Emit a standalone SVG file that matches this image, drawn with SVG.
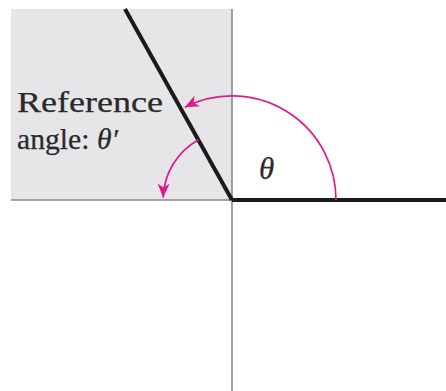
<svg xmlns="http://www.w3.org/2000/svg" width="446" height="391" viewBox="0 0 446 391">
<style>
.axis{stroke:#8a8a8a;stroke-width:1.6;fill:none}
.side{stroke:#1a1a1a;stroke-width:4;fill:none;stroke-linecap:butt}
.arc{stroke:#e0198a;stroke-width:1.7;fill:none}
.lbl{font-family:"Liberation Serif","Times New Roman",serif;fill:#2a2a2a;stroke:#2a2a2a;stroke-width:0.25}
</style>
<defs>
<marker id="ah" markerUnits="userSpaceOnUse" markerWidth="16" markerHeight="12" refX="14" refY="6" orient="auto">
<path d="M0,0 L14,6 L0,12 L4,6 Z" fill="#e0198a"/>
</marker>
</defs>
<rect width="446" height="391" fill="#ffffff"/>
<g id="quadrant">
<rect x="11" y="9" width="221" height="191" fill="#e6e6e8"/>
</g>
<g id="axes">
<line class="axis" x1="232" y1="9" x2="232" y2="391"/>
<line class="axis" x1="11" y1="200" x2="232" y2="200"/>
</g>
<g id="sides">
<line class="side" x1="232" y1="200" x2="446" y2="200"/>
<line class="side" x1="232" y1="200" x2="125" y2="9"/>
</g>
<g id="connectors">
<path class="arc" d="M336,200 A104,104 0 0,0 184.8,107.3" marker-end="url(#ah)"/>
<path class="arc" d="M198.5,139.7 A69,69 0 0,0 163.1,197.6" marker-end="url(#ah)"/>
</g>
<g id="label-reference">
<text class="lbl" x="17" y="112" font-size="30" textLength="146" lengthAdjust="spacingAndGlyphs">Reference</text>
<text class="lbl" x="17" y="149" font-size="30" textLength="101" lengthAdjust="spacingAndGlyphs">angle: <tspan font-style="italic">θ′</tspan></text>
</g>
<g id="label-theta">
<text class="lbl" x="259" y="179" font-size="31" font-style="italic">θ</text>
</g>
</svg>
